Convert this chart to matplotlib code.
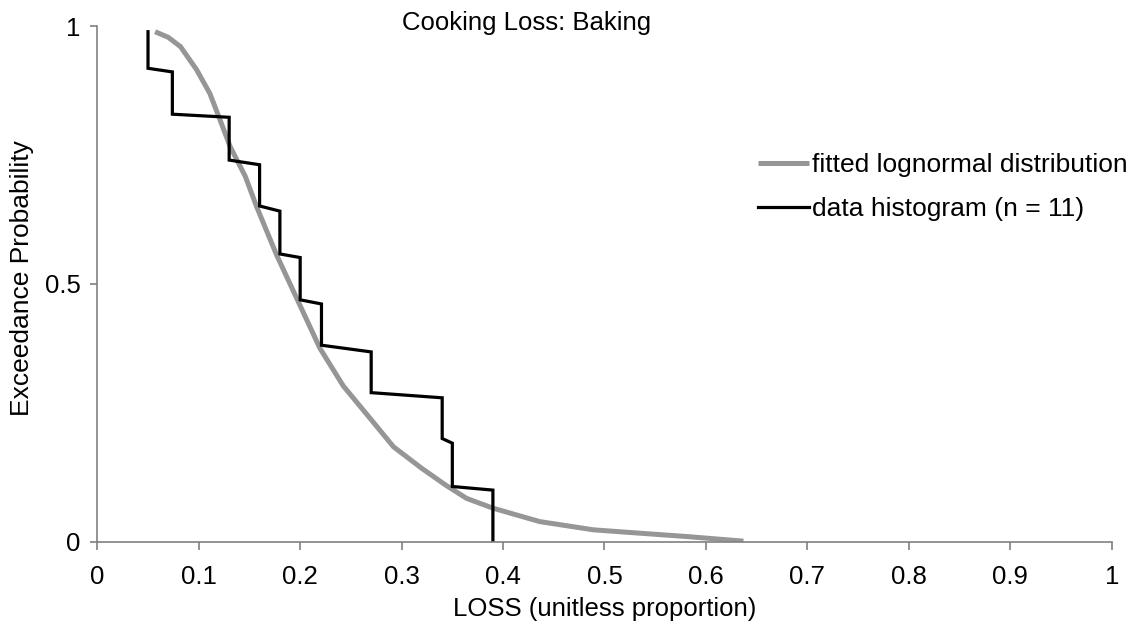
import matplotlib
matplotlib.use("Agg")
import matplotlib.pyplot as plt

plt.rcParams['font.family'] = ['Liberation Sans', 'DejaVu Sans']

# fitted lognormal exceedance curve
fit_x = [0.057, 0.070, 0.082, 0.098, 0.111, 0.121, 0.131, 0.146, 0.157, 0.177,
         0.198, 0.2195, 0.2425, 0.269, 0.292, 0.320, 0.344, 0.364, 0.390, 0.436,
         0.489, 0.545, 0.581, 0.637]
fit_y = [0.989, 0.978, 0.960, 0.915, 0.869, 0.818, 0.766, 0.708, 0.650, 0.555,
         0.466, 0.375, 0.302, 0.239, 0.184, 0.142, 0.109, 0.084, 0.065, 0.039,
         0.023, 0.015, 0.010, 0.001]

# step outline of the data histogram (11 samples)
hist_x = [0.05, 0.05, 0.074, 0.074, 0.13, 0.13, 0.16, 0.16, 0.18, 0.18, 0.20,
          0.20, 0.221, 0.221, 0.27, 0.27, 0.34, 0.34, 0.35, 0.35, 0.39, 0.39]
hist_y = [0.989, 0.918, 0.911, 0.829, 0.823, 0.740, 0.731, 0.651, 0.641, 0.558,
          0.551, 0.469, 0.461, 0.381, 0.368, 0.289, 0.279, 0.200, 0.191, 0.107,
          0.100, 0.0]

x_ticks = [0, 0.1, 0.2, 0.3, 0.4, 0.5, 0.6, 0.7, 0.8, 0.9, 1]
x_labels = ['0', '0.1', '0.2', '0.3', '0.4', '0.5', '0.6', '0.7', '0.8', '0.9', '1']
y_ticks = [0, 0.5, 1]
y_labels = ['0', '0.5', '1']

fs = 18.5

fig = plt.figure(figsize=(11.3, 6.3), dpi=100)
ax = fig.add_axes([0.0861, 0.1402, 0.8977, 0.8185])

ax.plot(fit_x, fit_y, color='#969696', lw=3.6, solid_capstyle='butt',
        label='fitted lognormal distribution')
ax.plot(hist_x, hist_y, color='black', lw=2.3, solid_joinstyle='miter',
        label='data histogram (n = 11)')

ax.set_xlim(0, 1)
ax.set_ylim(0, 1)
ax.set_xticks(x_ticks)
ax.set_xticklabels(x_labels)
ax.set_yticks(y_ticks)
ax.set_yticklabels(y_labels)

for side in ['top', 'right']:
    ax.spines[side].set_visible(False)
for side in ['left', 'bottom']:
    ax.spines[side].set_color('#808080')
    ax.spines[side].set_linewidth(1.2)

ax.tick_params(axis='x', direction='out', length=6, width=1.2, color='#808080',
               labelsize=fs, pad=11)
ax.tick_params(axis='y', direction='out', length=5, width=1.2, color='#808080',
               labelsize=fs, pad=7)

ax.set_xlabel('LOSS (unitless proportion)', fontsize=fs)
ax.xaxis.set_label_coords(0.5, -0.13)
ax.xaxis.label.set_va('center')
ax.set_ylabel('Exceedance Probability', fontsize=19)
ax.yaxis.set_label_coords(-0.074, 0.512)
ax.yaxis.label.set_va('center')

fig.text(526.7 / 1130, 1 - 30 / 630, 'Cooking Loss: Baking', fontsize=fs,
         ha='center', va='baseline')

ax.legend(loc='upper left', bbox_to_anchor=(758 / 1130, 1 - 153 / 630),
          bbox_transform=fig.transFigure, frameon=False, fontsize=19,
          handlelength=1.95, handletextpad=0.1, labelspacing=0.75,
          borderpad=0, borderaxespad=0)

fig.savefig('out.png', dpi=100)
